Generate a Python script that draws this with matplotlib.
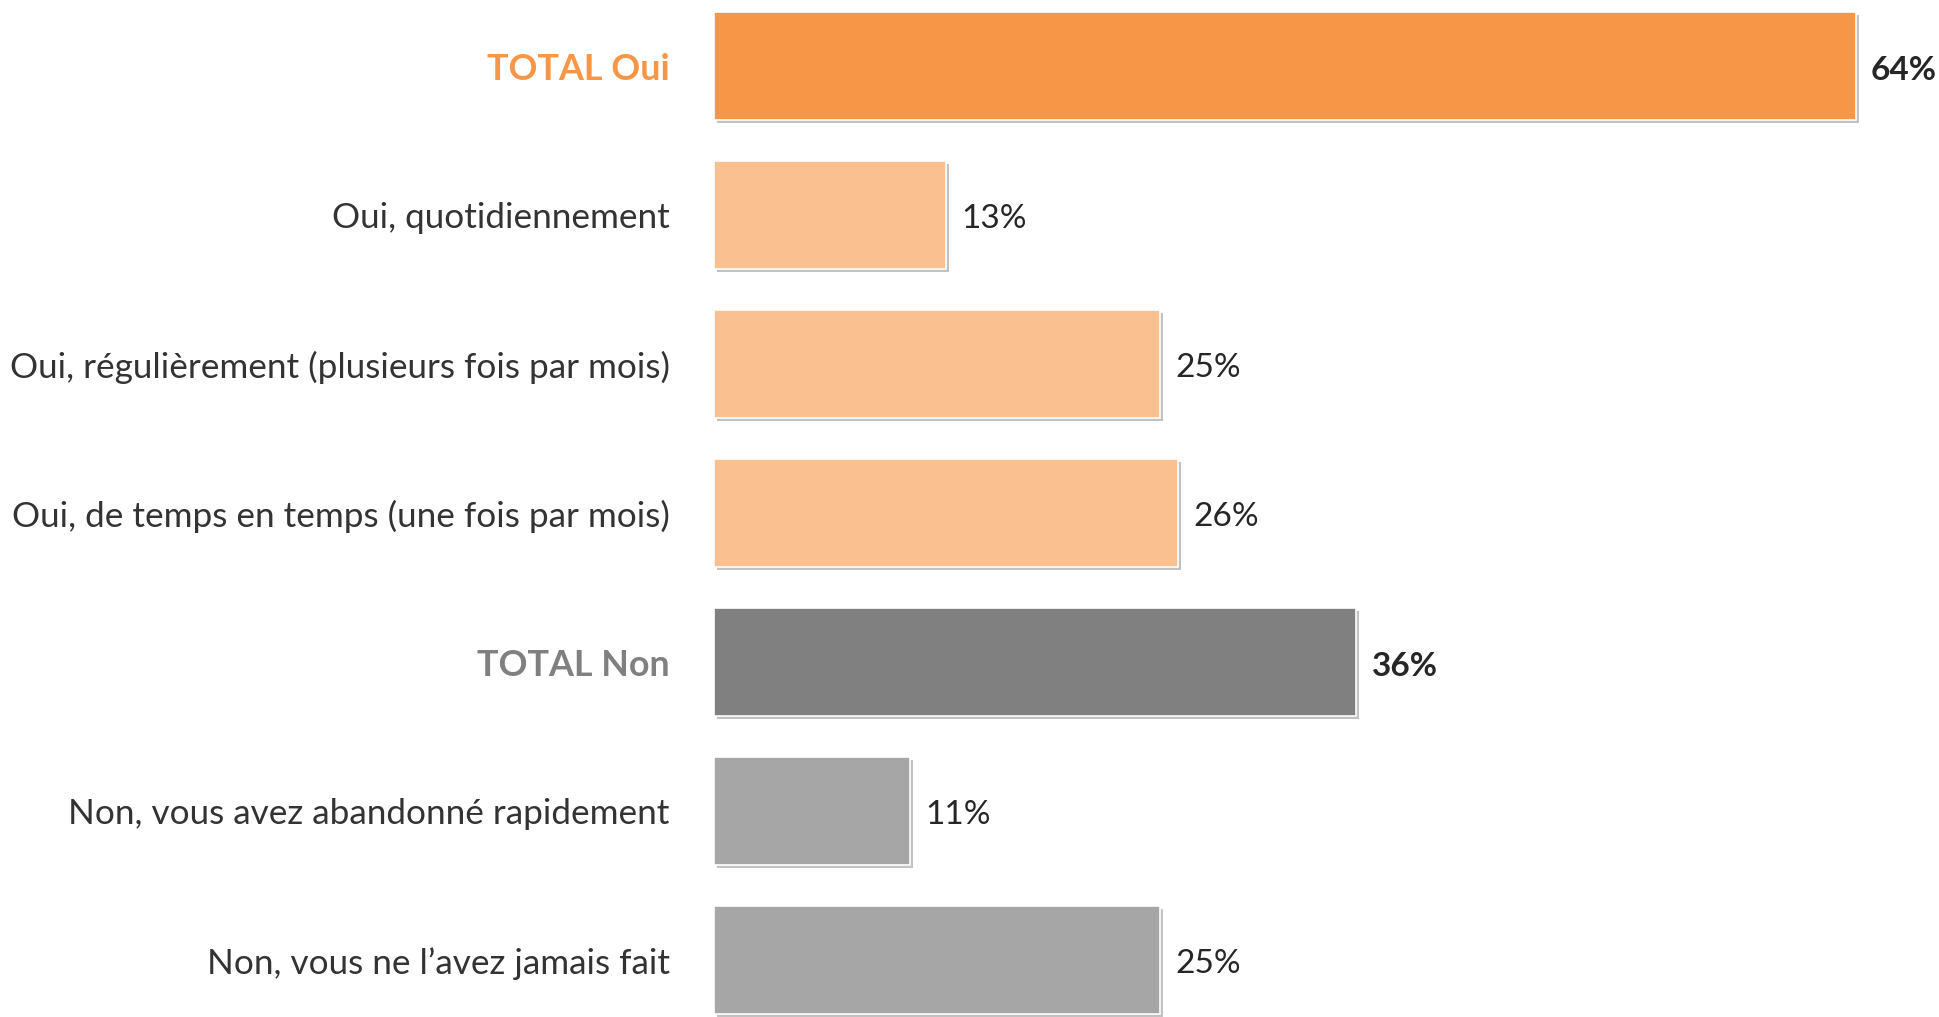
import matplotlib
matplotlib.use("Agg")
import matplotlib.pyplot as plt
import matplotlib.patheffects as pe

categories = [
    "TOTAL Oui",
    "Oui, quotidiennement",
    "Oui, régulièrement (plusieurs fois par mois)",
    "Oui, de temps en temps (une fois par mois)",
    "TOTAL Non",
    "Non, vous avez abandonné rapidement",
    "Non, vous ne l\u2019avez jamais fait",
]
values = [64, 13, 25, 26, 36, 11, 25]
value_labels = ["64%", "13%", "25%", "26%", "36%", "11%", "25%"]
is_total = [True, False, False, False, True, False, False]
bar_colors = ["#F79646", "#FAC090", "#FAC090", "#FAC090", "#808080", "#A6A6A6", "#A6A6A6"]
label_colors = ["#F79646", "#333333", "#333333", "#333333", "#808080", "#333333", "#333333"]

W, H = 1940, 1017
fig = plt.figure(figsize=(W / 100, H / 100), dpi=100)
ax_left = 714 / W
ax = fig.add_axes([ax_left, 0, 1 - ax_left, 1])
ax.set_xlim(0, (W - 714) / 17.84)
ax.set_ylim((1017 - 66) / 149, -66 / 149)
ax.axis("off")

font = "Lato"
ypos = list(range(len(categories)))
bars = ax.barh(ypos, values, height=0.725, color=bar_colors, edgecolor="white", linewidth=1.2)
for b in bars:
    b.set_path_effects([pe.SimplePatchShadow(offset=(2.2, -2.2), shadow_rgbFace="#9a9a9a", alpha=0.6), pe.Normal()])

for y, v, lab, tot in zip(ypos, values, value_labels, is_total):
    ax.annotate(lab, (v, y), xytext=(11, -3), textcoords="offset points", va="center", ha="left",
                fontsize=24, fontweight="bold" if tot else "normal", color="#262626", family=font)

for y, cat, col, tot in zip(ypos, categories, label_colors, is_total):
    ax.annotate(cat, (0, y), xytext=(-32, -2.5), textcoords="offset points", va="center", ha="right",
                fontsize=25.8 if tot else 25.3, fontweight="bold" if tot else "normal", color=col,
                family=font, annotation_clip=False)

fig.savefig("out.png", dpi=100)
